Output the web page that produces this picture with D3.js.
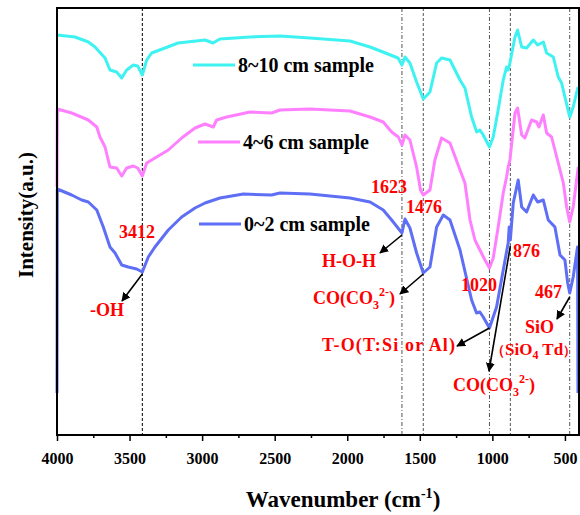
<html>
<head>
<meta charset="utf-8">
<script src="https://d3js.org/d3.v7.min.js"></script>
<style>
  body { margin: 0; background: #fff; }
  text { font-family: "Liberation Serif", "Times New Roman", serif; font-weight: bold; }
</style>
</head>
<body>
<div id="graph"></div>
<script>
// wavenumber (cm-1) and intensity (a.u.)
const wnCyan = [4000,3876,3784,3738,3669,3635,3589,3554,3520,3474,3444,3412,3382,3348,3256,3166,2980,2925,2877,2670,2464,2257,1981,1843,1754,1685,1650,1623,1602,1568,1522,1476,1430,1384,1350,1292,1223,1189,1143,1108,1086,1063,1020,994,960,925,902,891,879,844,826,798,764,718,688,649,626,580,546,523,500,467,443,410];
const iCyan = [400,398,393,388,377,365,363,357,365,370,369,360,375,382,387,392,395,392,396,398,399,397,394,388,383,379,377,370,378,372,353,336,343,372,377,375,355,347,318,303,305,300,288,298,325,355,368,365,372,398,405,388,387,395,390,393,382,378,358,352,338,318,328,348];

const wnPink = [4000,3998,3899,3784,3726,3704,3669,3635,3589,3554,3520,3474,3444,3412,3382,3325,3233,3141,3049,2980,2923,2900,2831,2670,2521,2464,2257,1981,1843,1752,1694,1648,1623,1602,1568,1522,1495,1476,1430,1396,1350,1292,1223,1189,1154,1120,1086,1051,1020,994,960,925,902,891,879,844,826,798,776,730,695,679,649,626,592,546,511,488,467,443,408];
const iPink = [248,326,322,315,308,298,288,268,267,259,267,269,267,259,272,277,285,297,307,311,308,315,318,323,322,325,326,324,318,313,303,298,290,300,295,268,245,240,245,275,297,292,265,252,215,195,185,175,167,177,208,242,258,268,275,322,327,300,297,315,313,308,320,302,298,272,252,228,213,228,268];

const wnBlue = [4000,3998,3899,3830,3784,3726,3681,3635,3600,3554,3509,3451,3412,3371,3325,3233,3141,3049,2980,2877,2716,2521,2464,2257,1981,1843,1752,1694,1623,1602,1568,1522,1476,1430,1384,1338,1292,1223,1143,1109,1086,1063,1020,971,925,891,884,876,856,822,798,764,718,688,649,615,569,534,500,481,467,443,413,410];
const iBlue = [42,246,240,235,233,225,208,188,182,170,168,166,163,178,188,205,218,227,232,237,241,240,242,241,237,233,225,215,202,216,207,182,162,168,208,220,215,185,135,122,123,118,107,128,165,192,208,195,232,255,228,223,240,233,235,215,208,180,175,152,142,158,188,42];

const seriesNames = ['8~10 cm sample', '4~6 cm sample', '0~2 cm sample'];
const seriesColors = ['#3ff2f2', '#ff80ff', '#5f6ff5'];
const xTicks = [4000,3500,3000,2500,2000,1500,1000,500];
const markLines = [3412, 1623, 1476, 1020, 876, 467];

const W = 580, H = 515;
const margin = {top: 8, right: 1, bottom: 80, left: 57};
const width = W - margin.left - margin.right,
      height = H - margin.top - margin.bottom;

const svg = d3.select('#graph').append('svg')
  .attr('width', W).attr('height', H);

svg.append('defs').append('marker')
  .attr('id', 'arr').attr('viewBox', '0 0 10 10')
  .attr('refX', 9).attr('refY', 5)
  .attr('markerWidth', 9).attr('markerHeight', 9)
  .attr('markerUnits', 'userSpaceOnUse')
  .attr('orient', 'auto')
  .append('path').attr('d', 'M0,0 L10,5 L0,10 z').attr('fill', '#000');

const g = svg.append('g')
  .attr('transform', 'translate(' + margin.left + ',' + margin.top + ')');

const x = d3.scaleLinear().domain([4000, 403]).range([0, width]);
const y = d3.scaleLinear().domain([0, 427]).range([height, 0]);

// dashed guide lines
markLines.forEach(function (m, i) {
  g.append('line')
    .attr('x1', x(m)).attr('x2', x(m))
    .attr('y1', 0).attr('y2', height)
    .attr('stroke', i == 0 ? '#000' : '#555')
    .attr('stroke-width', 1)
    .attr('stroke-dasharray', i == 0 ? '3,2' : (i % 2 ? '4,2,1,2' : '3,2'));
});

// spectra
const line = d3.line().x(function (d) { return x(d[0]); }).y(function (d) { return y(d[1]); });
const sets = [[wnCyan, iCyan], [wnPink, iPink], [wnBlue, iBlue]];
sets.forEach(function (s, i) {
  g.append('path')
    .datum(d3.zip(s[0], s[1]))
    .attr('d', line)
    .attr('fill', 'none')
    .attr('stroke', seriesColors[i])
    .attr('stroke-width', 3)
    .attr('stroke-linejoin', 'round');
});

// axes
const xAxis = g.append('g')
  .attr('transform', 'translate(0,' + height + ')')
  .call(d3.axisBottom(x).tickValues(xTicks).tickSize(6).tickSizeOuter(0).tickFormat(d3.format('d')));
xAxis.select('.domain').remove();
xAxis.selectAll('.tick line').attr('stroke-width', 1.5);
xAxis.selectAll('.tick text').attr('font-size', 16).attr('dy', '1.25em')
  .attr('font-family', '"Liberation Serif", serif').attr('font-weight', 'bold');
const minor = g.append('g').attr('transform', 'translate(0,' + height + ')')
  .call(d3.axisBottom(x).tickValues(d3.range(3750, 403, -500)).tickSize(3).tickFormat(''));
minor.select('.domain').remove();
minor.selectAll('.tick line').attr('stroke-width', 1.5);

g.append('rect').attr('x', 0).attr('y', 0).attr('width', width).attr('height', height)
  .attr('fill', 'none').attr('stroke', '#000').attr('stroke-width', 2);

// legend
const legY = [65, 142, 224], legX = [193, 198, 199];
seriesNames.forEach(function (n, i) {
  svg.append('line').attr('x1', legX[i]).attr('x2', legX[i] + 42)
    .attr('y1', legY[i]).attr('y2', legY[i])
    .attr('stroke', seriesColors[i]).attr('stroke-width', 3);
  svg.append('text').attr('x', legX[i] + 45).attr('y', legY[i] + 7)
    .attr('font-size', 20).text(n);
});

// annotations
function red(xp, yp, t, size) {
  return svg.append('text').attr('x', xp).attr('y', yp).attr('fill', '#f00')
    .attr('font-size', size || 18).text(t);
}
function arrow(wn, val, x2, y2) {
  svg.append('line')
    .attr('x1', margin.left + x(wn)).attr('y1', margin.top + y(val))
    .attr('x2', x2).attr('y2', y2)
    .attr('stroke', '#000').attr('stroke-width', 1.6)
    .attr('marker-end', 'url(#arr)');
}
function carbonate(xp, yp) {
  const t = red(xp, yp, 'CO(CO');
  t.append('tspan').attr('font-size', 12).attr('dy', 5).text('3');
  t.append('tspan').attr('font-size', 12).attr('dy', -13).text('2-');
  t.append('tspan').attr('dy', 8).text(')');
}

red(119, 238, '3412');
red(90, 316, '-OH');
arrow(3412, iBlue[12] - 2, 122, 301);
red(371, 193, '1623');
red(406, 213, '1476');
red(322, 267, 'H-O-H');
arrow(1623, iBlue[28] - 2, 380, 253);
carbonate(313, 304);
arrow(1476, iBlue[32] - 1, 400, 294);
red(461, 291, '1020');
red(513, 257, '876');
red(322, 351, 'T-O(T:Si or Al)').attr('textLength', 133).attr('lengthAdjust', 'spacing');
arrow(1020, iBlue[42], 457, 346);
carbonate(453, 391);
arrow(876, iBlue[47] - 6, 489, 371);
red(535, 298, '467');
arrow(467, iBlue[60] - 4, 557, 319);
red(525, 333, 'SiO');
const sio4 = red(491, 355, '（', 14);
sio4.append('tspan').attr('font-size', 17).text('SiO');
sio4.append('tspan').attr('font-size', 12).attr('dy', 4).text('4');
sio4.append('tspan').attr('font-size', 17).attr('dy', -4).text(' Td');
sio4.append('tspan').attr('font-size', 13).text('）');

// axis titles
svg.append('text')
  .attr('transform', 'translate(33,215) rotate(-90)')
  .attr('text-anchor', 'middle').attr('font-size', 21).text('Intensity(a.u.)');
const xl = svg.append('text').attr('x', 343).attr('y', 507)
  .attr('text-anchor', 'middle').attr('font-size', 23).text('Wavenumber (cm');
xl.append('tspan').attr('font-size', 14).attr('dy', -9).text('-1');
xl.append('tspan').attr('dy', 9).text(')');
</script>
</body>
</html>
